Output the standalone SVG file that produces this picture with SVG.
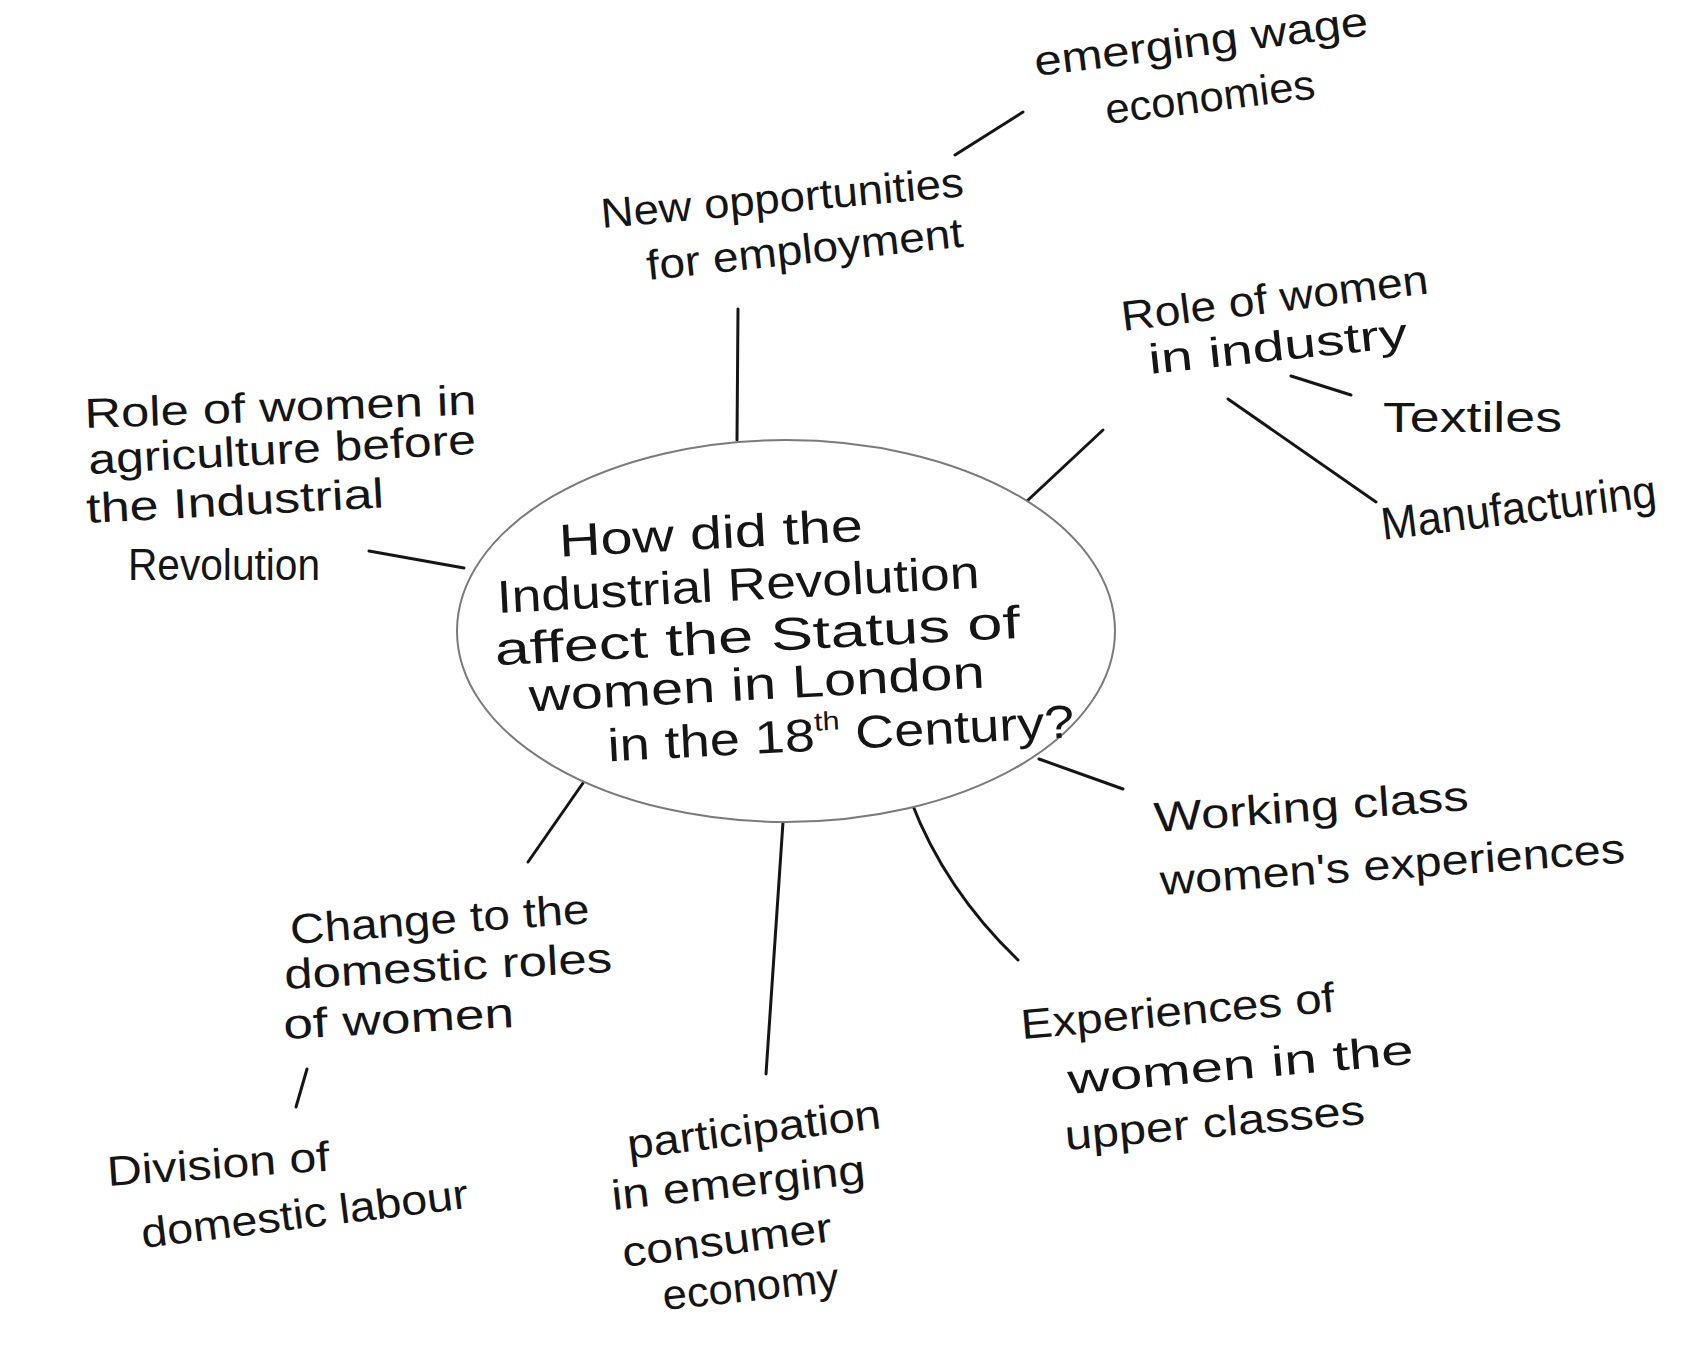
<svg xmlns="http://www.w3.org/2000/svg" width="1701" height="1350" viewBox="0 0 1701 1350">
<style>
  .t { font-family: "Liberation Sans", "DejaVu Sans", sans-serif; font-size: 42px; fill: #151515; }
  .c { font-size: 46px; }
  .ln { stroke: #151515; stroke-width: 3; fill: none; stroke-linecap: round; }
  .ell { fill: #ffffff; stroke: #7a7a7a; stroke-width: 2; }
</style>
<rect width="1701" height="1350" fill="#ffffff"/>

<g id="connectors">
  <line class="ln" x1="738" y1="309" x2="737" y2="440"/>
  <line class="ln" x1="955" y1="155" x2="1023" y2="112"/>
  <line class="ln" x1="1027" y1="501" x2="1103" y2="430"/>
  <line class="ln" x1="1291" y1="376" x2="1351" y2="395"/>
  <line class="ln" x1="1228" y1="399" x2="1376" y2="502"/>
  <line class="ln" x1="1039" y1="759" x2="1123" y2="789"/>
  <path class="ln" d="M911 801 Q945 890 1018 960"/>
  <line class="ln" x1="783" y1="822" x2="766" y2="1074"/>
  <line class="ln" x1="583" y1="783" x2="528" y2="862"/>
  <line class="ln" x1="307" y1="1069" x2="296" y2="1107"/>
  <line class="ln" x1="369" y1="551" x2="464" y2="568"/>
</g>

<g id="center">
  <ellipse class="ell" cx="786" cy="631" rx="329" ry="191"/>
  <g transform="rotate(-3 786 631)">
    <text class="t c" x="564" y="545" textLength="304" lengthAdjust="spacingAndGlyphs">How did the</text>
    <text class="t c" x="499" y="598" textLength="483" lengthAdjust="spacingAndGlyphs">Industrial Revolution</text>
    <text class="t c" x="494" y="650" textLength="526" lengthAdjust="spacingAndGlyphs">affect the Status of</text>
    <text class="t c" x="526" y="698" textLength="456" lengthAdjust="spacingAndGlyphs">women in London</text>
    <text class="t c" x="602" y="752" textLength="467" lengthAdjust="spacingAndGlyphs">in the 18<tspan font-size="26" dy="-20">th</tspan><tspan dy="20"> Century?</tspan></text>
  </g>
</g>

<g id="new-opportunities">
  <text class="t" x="602" y="228" transform="rotate(-5 602 228)" textLength="364" lengthAdjust="spacingAndGlyphs">New opportunities</text>
  <text class="t" x="648" y="280" transform="rotate(-6 648 280)" textLength="318" lengthAdjust="spacingAndGlyphs">for employment</text>
</g>

<g id="emerging-wage">
  <text class="t" x="1036" y="76" transform="rotate(-7 1036 76)" textLength="336" lengthAdjust="spacingAndGlyphs">emerging wage</text>
  <text class="t" x="1107" y="124" transform="rotate(-7 1107 124)" textLength="211" lengthAdjust="spacingAndGlyphs">economies</text>
</g>

<g id="role-industry">
  <text class="t" x="1123" y="331" transform="rotate(-7 1123 331)" textLength="309" lengthAdjust="spacingAndGlyphs">Role of women</text>
  <text class="t" x="1150" y="374" transform="rotate(-6 1150 374)" textLength="260" lengthAdjust="spacingAndGlyphs">in industry</text>
</g>

<g id="textiles">
  <text class="t" x="1383" y="432" textLength="179" lengthAdjust="spacingAndGlyphs">Textiles</text>
</g>

<g id="manufacturing">
  <text class="t" x="1383" y="540" transform="rotate(-7 1383 540)" style="font-size:46px" textLength="277" lengthAdjust="spacingAndGlyphs">Manufacturing</text>
</g>

<g id="role-agriculture">
  <text class="t" x="85" y="428" transform="rotate(-2 85 428)" textLength="392" lengthAdjust="spacingAndGlyphs">Role of women in</text>
  <text class="t" x="89" y="474" transform="rotate(-3 89 474)" textLength="388" lengthAdjust="spacingAndGlyphs">agriculture before</text>
  <text class="t" x="87" y="523" transform="rotate(-3 87 523)" textLength="298" lengthAdjust="spacingAndGlyphs">the Industrial</text>
  <text class="t" x="128" y="580" style="font-size:44px" textLength="192" lengthAdjust="spacingAndGlyphs">Revolution</text>
</g>

<g id="working-class">
  <text class="t" x="1155" y="832" transform="rotate(-4 1155 832)" textLength="315" lengthAdjust="spacingAndGlyphs">Working class</text>
  <text class="t" x="1161" y="895" transform="rotate(-4 1161 895)" textLength="466" lengthAdjust="spacingAndGlyphs">women's experiences</text>
</g>

<g id="upper-classes">
  <text class="t" x="1022" y="1039" transform="rotate(-5 1022 1039)" textLength="315" lengthAdjust="spacingAndGlyphs">Experiences of</text>
  <text class="t" x="1069" y="1094" transform="rotate(-5 1069 1094)" textLength="347" lengthAdjust="spacingAndGlyphs">women in the</text>
  <text class="t" x="1066" y="1150" transform="rotate(-5 1066 1150)" textLength="301" lengthAdjust="spacingAndGlyphs">upper classes</text>
</g>

<g id="participation">
  <text class="t" x="629" y="1159" transform="rotate(-7 629 1159)" textLength="255" lengthAdjust="spacingAndGlyphs">participation</text>
  <text class="t" x="613" y="1210" transform="rotate(-6 613 1210)" textLength="255" lengthAdjust="spacingAndGlyphs">in emerging</text>
  <text class="t" x="624" y="1267" transform="rotate(-7 624 1267)" textLength="211" lengthAdjust="spacingAndGlyphs">consumer</text>
  <text class="t" x="664" y="1310" transform="rotate(-6 664 1310)" textLength="177" lengthAdjust="spacingAndGlyphs">economy</text>
</g>

<g id="change-domestic">
  <text class="t" x="291" y="944" transform="rotate(-4 291 944)" textLength="300" lengthAdjust="spacingAndGlyphs">Change to the</text>
  <text class="t" x="285" y="989" transform="rotate(-3 285 989)" textLength="328" lengthAdjust="spacingAndGlyphs">domestic roles</text>
  <text class="t" x="284" y="1039" transform="rotate(-3 284 1039)" textLength="231" lengthAdjust="spacingAndGlyphs">of women</text>
</g>

<g id="division-labour">
  <text class="t" x="108" y="1186" transform="rotate(-4 108 1186)" textLength="223" lengthAdjust="spacingAndGlyphs">Division of</text>
  <text class="t" x="143" y="1248" transform="rotate(-7 143 1248)" textLength="329" lengthAdjust="spacingAndGlyphs">domestic labour</text>
</g>
</svg>
